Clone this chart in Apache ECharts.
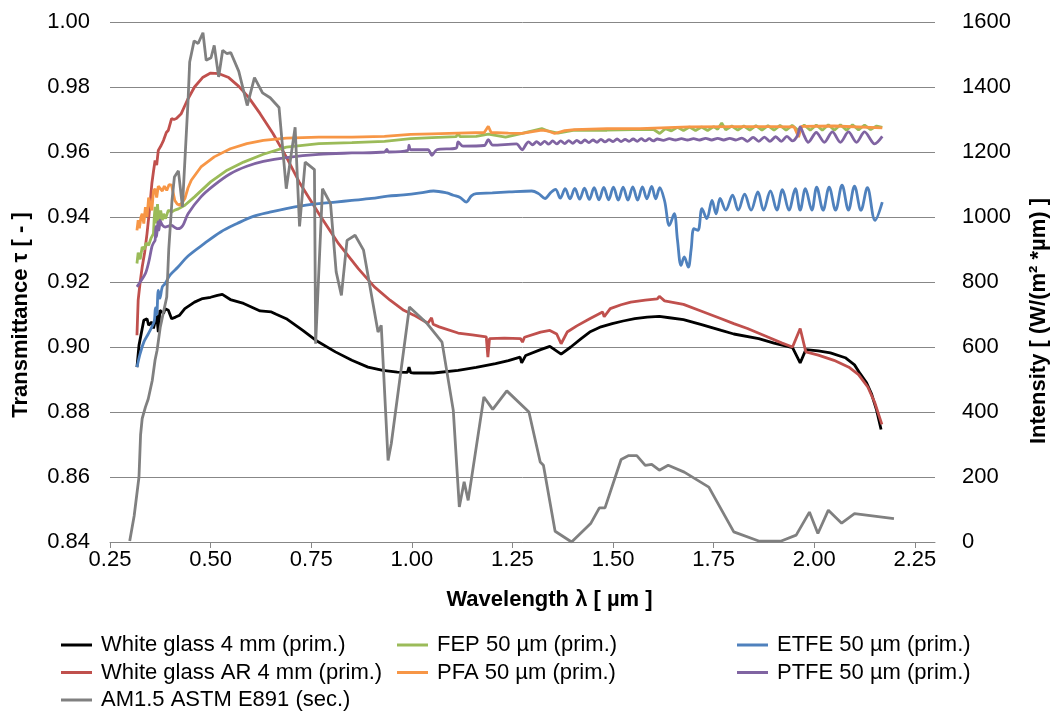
<!DOCTYPE html>
<html>
<head>
<meta charset="utf-8">
<script src="https://cdn.jsdelivr.net/npm/echarts@6/dist/echarts.min.js"></script>
<style>
html,body{margin:0;padding:0;background:#fff;}
#chart{width:1058px;height:711px;}
</style>
</head>
<body>
<div id="chart"></div>
<script>
// ---- data (wavelength in µm, transmittance / intensity) ----
const xTicks = [0.25, 0.50, 0.75, 1.00, 1.25, 1.50, 1.75, 2.00, 2.25];

const whiteGlass = [[0.317,0.8938],[0.322,0.9005],[0.334,0.9082],[0.342,0.9087],[0.346,0.9067],[0.354,0.9077],[0.358,0.9057],[0.366,0.9098],[0.370,0.9046],[0.374,0.9113],[0.383,0.9103],[0.387,0.9118],[0.395,0.9113],[0.403,0.9087],[0.413,0.9092],[0.423,0.9098],[0.436,0.9118],[0.460,0.9138],[0.480,0.9149],[0.500,0.9153],[0.517,0.9159],[0.529,0.9162],[0.549,0.9146],[0.582,0.9134],[0.623,0.9111],[0.651,0.9108],[0.663,0.9101],[0.688,0.9087],[0.729,0.9051],[0.761,0.9021],[0.810,0.8985],[0.851,0.8959],[0.891,0.8938],[0.928,0.8928],[0.964,0.8923],[0.989,0.8922],[0.993,0.8938],[0.997,0.8921],[1.005,0.8920],[1.054,0.8920],[1.115,0.8928],[1.160,0.8937],[1.208,0.8949],[1.240,0.8958],[1.269,0.8969],[1.273,0.8951],[1.283,0.8974],[1.320,0.8992],[1.343,0.9002],[1.371,0.8978],[1.395,0.9000],[1.420,0.9025],[1.442,0.9046],[1.470,0.9062],[1.498,0.9072],[1.525,0.9080],[1.554,0.9087],[1.585,0.9092],[1.615,0.9094],[1.640,0.9090],[1.675,0.9084],[1.720,0.9069],[1.769,0.9051],[1.800,0.9040],[1.862,0.9026],[1.900,0.9012],[1.946,0.8998],[1.965,0.8951],[1.979,0.8992],[2.010,0.8988],[2.040,0.8982],[2.077,0.8967],[2.100,0.8945],[2.114,0.8918],[2.130,0.8890],[2.142,0.8857],[2.155,0.8805],[2.166,0.8746]];

const whiteGlassAR = [[0.317,0.9036],[0.320,0.9144],[0.325,0.9200],[0.330,0.9246],[0.336,0.9290],[0.342,0.9349],[0.348,0.9420],[0.354,0.9503],[0.358,0.9540],[0.362,0.9574],[0.366,0.9560],[0.370,0.9605],[0.377,0.9620],[0.383,0.9636],[0.390,0.9660],[0.395,0.9667],[0.403,0.9703],[0.409,0.9700],[0.415,0.9703],[0.427,0.9718],[0.435,0.9740],[0.444,0.9764],[0.460,0.9800],[0.480,0.9829],[0.500,0.9843],[0.521,0.9841],[0.545,0.9829],[0.570,0.9802],[0.594,0.9769],[0.623,0.9718],[0.655,0.9657],[0.688,0.9585],[0.720,0.9508],[0.769,0.9410],[0.818,0.9318],[0.867,0.9241],[0.907,0.9185],[0.946,0.9144],[0.980,0.9113],[1.005,0.9098],[1.021,0.9087],[1.040,0.9073],[1.049,0.9090],[1.053,0.9070],[1.068,0.9062],[1.115,0.9043],[1.150,0.9037],[1.185,0.9031],[1.189,0.8969],[1.193,0.9026],[1.230,0.9027],[1.270,0.9026],[1.275,0.9015],[1.280,0.9030],[1.320,0.9046],[1.343,0.9051],[1.360,0.9040],[1.371,0.9010],[1.386,0.9046],[1.410,0.9065],[1.442,0.9087],[1.474,0.9108],[1.478,0.9093],[1.493,0.9118],[1.520,0.9130],[1.544,0.9138],[1.580,0.9144],[1.610,0.9148],[1.615,0.9156],[1.628,0.9142],[1.675,0.9131],[1.720,0.9110],[1.769,0.9087],[1.800,0.9072],[1.834,0.9057],[1.880,0.9033],[1.920,0.9012],[1.946,0.9000],[1.965,0.9057],[1.979,0.8985],[2.010,0.8975],[2.049,0.8959],[2.086,0.8938],[2.110,0.8915],[2.133,0.8877],[2.150,0.8830],[2.168,0.8762]];

const am15 = [[0.299,3],[0.310,80],[0.322,200],[0.326,330],[0.330,380],[0.334,385],[0.338,415],[0.345,440],[0.355,497],[0.362,560],[0.367,590],[0.375,662],[0.391,754],[0.396,900],[0.404,1050],[0.410,1123],[0.420,1142],[0.430,1031],[0.444,1359],[0.448,1477],[0.459,1542],[0.469,1534],[0.481,1567],[0.489,1482],[0.501,1490],[0.509,1528],[0.520,1431],[0.530,1513],[0.540,1503],[0.550,1506],[0.570,1448],[0.591,1343],[0.609,1429],[0.629,1382],[0.648,1367],[0.670,1337],[0.688,1087],[0.710,1276],[0.721,971],[0.735,1169],[0.758,1146],[0.761,610],[0.778,1087],[0.798,1041],[0.812,831],[0.825,759],[0.839,928],[0.859,944],[0.880,898],[0.916,646],[0.924,667],[0.941,251],[0.949,303],[0.994,723],[1.038,672],[1.075,615],[1.103,405],[1.118,108],[1.130,185],[1.140,128],[1.179,446],[1.201,408],[1.236,465],[1.291,400],[1.319,246],[1.327,236],[1.356,33],[1.397,0],[1.445,58],[1.466,105],[1.480,105],[1.520,254],[1.539,266],[1.559,266],[1.580,236],[1.596,239],[1.615,221],[1.637,236],[1.677,215],[1.738,169],[1.800,31],[1.862,3],[1.918,3],[1.955,21],[1.988,92],[2.009,26],[2.035,98],[2.068,58],[2.100,87],[2.198,72]];

const fep = [[0.317,0.9257],[0.320,0.9290],[0.325,0.9270],[0.330,0.9308],[0.335,0.9300],[0.340,0.9320],[0.346,0.9313],[0.352,0.9335],[0.358,0.9349],[0.360,0.9400],[0.362,0.9431],[0.365,0.9380],[0.368,0.9440],[0.372,0.9370],[0.376,0.9420],[0.380,0.9390],[0.383,0.9410],[0.388,0.9395],[0.395,0.9421],[0.403,0.9415],[0.411,0.9421],[0.420,0.9425],[0.436,0.9436],[0.460,0.9462],[0.500,0.9508],[0.541,0.9544],[0.582,0.9569],[0.631,0.9593],[0.688,0.9615],[0.769,0.9626],[0.851,0.9629],[0.932,0.9633],[0.997,0.9641],[1.050,0.9644],[1.110,0.9647],[1.115,0.9658],[1.120,0.9647],[1.160,0.9648],[1.190,0.9655],[1.233,0.9646],[1.274,0.9657],[1.323,0.9672],[1.340,0.9664],[1.363,0.9658],[1.404,0.9667],[1.485,0.9667],[1.550,0.9669],[1.600,0.9670],[1.616,0.9657],[1.630,0.9672],[1.645,0.9665],[1.660,0.9676],[1.675,0.9666],[1.690,0.9677],[1.705,0.9666],[1.720,0.9677],[1.735,0.9666],[1.750,0.9678],[1.760,0.9670],[1.770,0.9689],[1.780,0.9668],[1.795,0.9680],[1.810,0.9667],[1.825,0.9680],[1.840,0.9667],[1.855,0.9681],[1.870,0.9667],[1.885,0.9681],[1.900,0.9667],[1.915,0.9682],[1.930,0.9667],[1.945,0.9682],[1.960,0.9667],[1.975,0.9683],[1.990,0.9667],[2.005,0.9683],[2.020,0.9667],[2.035,0.9684],[2.050,0.9667],[2.065,0.9684],[2.080,0.9667],[2.095,0.9684],[2.110,0.9668],[2.125,0.9683],[2.140,0.9669],[2.155,0.9680],[2.169,0.9676]];

const pfa = [[0.317,0.9359],[0.320,0.9390],[0.323,0.9365],[0.327,0.9400],[0.330,0.9410],[0.334,0.9380],[0.338,0.9430],[0.342,0.9400],[0.346,0.9460],[0.350,0.9462],[0.354,0.9420],[0.358,0.9480],[0.362,0.9487],[0.366,0.9460],[0.370,0.9495],[0.374,0.9492],[0.380,0.9480],[0.385,0.9495],[0.391,0.9482],[0.397,0.9500],[0.403,0.9498],[0.411,0.9451],[0.417,0.9440],[0.423,0.9436],[0.430,0.9445],[0.436,0.9457],[0.444,0.9490],[0.452,0.9513],[0.476,0.9554],[0.509,0.9585],[0.549,0.9610],[0.590,0.9626],[0.631,0.9636],[0.688,0.9643],[0.769,0.9646],[0.851,0.9646],[0.932,0.9648],[0.997,0.9654],[1.050,0.9656],[1.115,0.9658],[1.180,0.9660],[1.190,0.9679],[1.197,0.9660],[1.240,0.9658],[1.274,0.9657],[1.300,0.9663],[1.323,0.9667],[1.340,0.9664],[1.355,0.9657],[1.380,0.9666],[1.404,0.9669],[1.485,0.9672],[1.567,0.9672],[1.689,0.9677],[1.800,0.9678],[1.900,0.9678],[1.950,0.9677],[1.961,0.9646],[1.968,0.9679],[2.050,0.9680],[2.169,0.9674]];

const etfe = [[0.317,0.8938],[0.325,0.8980],[0.334,0.9015],[0.345,0.9040],[0.354,0.9062],[0.360,0.9080],[0.363,0.9120],[0.366,0.9100],[0.370,0.9174],[0.374,0.9150],[0.380,0.9185],[0.387,0.9195],[0.399,0.9221],[0.419,0.9246],[0.444,0.9280],[0.484,0.9318],[0.525,0.9354],[0.566,0.9380],[0.606,0.9402],[0.647,0.9415],[0.688,0.9426],[0.730,0.9435],[0.769,0.9441],[0.810,0.9446],[0.851,0.9451],[0.900,0.9457],[0.940,0.9464],[0.980,0.9468],[1.021,0.9474],[1.054,0.9480],[1.087,0.9474],[1.103,0.9467],[1.120,0.9460],[1.135,0.9446],[1.148,0.9465],[1.160,0.9472],[1.200,0.9474],[1.242,0.9477],[1.298,0.9480],[1.315,0.9472],[1.331,0.9457],[1.345,0.9475],[1.357,0.9485],[1.369,0.9458],[1.381,0.9487],[1.393,0.9456],[1.405,0.9488],[1.417,0.9455],[1.429,0.9489],[1.441,0.9454],[1.453,0.9490],[1.465,0.9453],[1.477,0.9491],[1.489,0.9453],[1.501,0.9492],[1.513,0.9452],[1.525,0.9492],[1.537,0.9452],[1.549,0.9493],[1.561,0.9452],[1.573,0.9493],[1.584,0.9456],[1.596,0.9494],[1.606,0.9456],[1.616,0.9490],[1.628,0.9450],[1.640,0.9374],[1.652,0.9410],[1.660,0.9330],[1.669,0.9251],[1.677,0.9277],[1.687,0.9246],[1.694,0.9300],[1.701,0.9364],[1.711,0.9359],[1.721,0.9426],[1.733,0.9395],[1.746,0.9451],[1.756,0.9410],[1.766,0.9457],[1.780,0.9421],[1.797,0.9467],[1.811,0.9421],[1.827,0.9470],[1.843,0.9421],[1.860,0.9477],[1.874,0.9421],[1.891,0.9480],[1.907,0.9421],[1.921,0.9484],[1.937,0.9421],[1.953,0.9487],[1.965,0.9421],[1.978,0.9487],[1.994,0.9421],[2.006,0.9492],[2.022,0.9421],[2.037,0.9492],[2.053,0.9421],[2.069,0.9498],[2.085,0.9421],[2.100,0.9495],[2.116,0.9421],[2.132,0.9490],[2.151,0.9390],[2.169,0.9446]];

const ptfe = [[0.317,0.9185],[0.325,0.9200],[0.338,0.9226],[0.346,0.9260],[0.354,0.9308],[0.358,0.9320],[0.362,0.9328],[0.364,0.9370],[0.366,0.9340],[0.369,0.9385],[0.372,0.9360],[0.374,0.9390],[0.380,0.9375],[0.387,0.9369],[0.395,0.9372],[0.403,0.9374],[0.411,0.9368],[0.419,0.9364],[0.431,0.9374],[0.444,0.9410],[0.476,0.9462],[0.509,0.9498],[0.549,0.9533],[0.590,0.9556],[0.631,0.9571],[0.688,0.9583],[0.769,0.9593],[0.851,0.9597],[0.932,0.9600],[0.938,0.9608],[0.942,0.9600],[0.990,0.9605],[0.993,0.9621],[0.997,0.9607],[1.040,0.9607],[1.050,0.9590],[1.062,0.9607],[1.110,0.9612],[1.115,0.9631],[1.127,0.9618],[1.180,0.9620],[1.190,0.9638],[1.201,0.9621],[1.260,0.9625],[1.274,0.9607],[1.285,0.9626],[1.290,0.9631],[1.300,0.9622],[1.310,0.9632],[1.320,0.9623],[1.330,0.9633],[1.340,0.9624],[1.350,0.9634],[1.360,0.9625],[1.370,0.9634],[1.380,0.9626],[1.390,0.9635],[1.400,0.9627],[1.410,0.9636],[1.420,0.9628],[1.430,0.9637],[1.440,0.9629],[1.450,0.9637],[1.460,0.9630],[1.470,0.9639],[1.480,0.9631],[1.490,0.9638],[1.500,0.9632],[1.510,0.9640],[1.520,0.9632],[1.530,0.9639],[1.540,0.9633],[1.550,0.9640],[1.560,0.9633],[1.570,0.9641],[1.580,0.9634],[1.590,0.9641],[1.600,0.9634],[1.610,0.9640],[1.625,0.9636],[1.640,0.9641],[1.655,0.9637],[1.670,0.9641],[1.685,0.9637],[1.700,0.9641],[1.715,0.9637],[1.730,0.9642],[1.745,0.9637],[1.760,0.9642],[1.775,0.9637],[1.790,0.9642],[1.805,0.9637],[1.820,0.9643],[1.834,0.9633],[1.848,0.9645],[1.862,0.9633],[1.876,0.9646],[1.890,0.9633],[1.904,0.9647],[1.918,0.9633],[1.932,0.9648],[1.946,0.9634],[1.958,0.9650],[1.965,0.9677],[1.975,0.9650],[1.985,0.9630],[2.005,0.9660],[2.025,0.9630],[2.045,0.9662],[2.065,0.9630],[2.085,0.9662],[2.105,0.9630],[2.125,0.9662],[2.150,0.9625],[2.169,0.9648]];

const names = {
  wg: 'White glass 4 mm (prim.)',
  wgar: 'White glass AR 4 mm (prim.)',
  am: 'AM1.5 ASTM E891 (sec.)',
  fep: 'FEP 50 µm (prim.)',
  pfa: 'PFA 50 µm (prim.)',
  etfe: 'ETFE 50 µm (prim.)',
  ptfe: 'PTFE 50 µm (prim.)'
};

const FONT = 'Liberation Sans, Arial, sans-serif';
const FS = 22;
const chart = echarts.init(document.getElementById('chart'), null, {renderer: 'canvas'});

function line(name, data, color, yAxisIndex, z, smooth) {
  return {
    name, type: 'line', data, yAxisIndex: yAxisIndex || 0,
    showSymbol: false, symbol: 'none', smooth: smooth || false, z: z || 2,
    lineStyle: {color, width: 2.8},
    itemStyle: {color},
    emphasis: {disabled: true}
  };
}

const legendBase = {
  orient: 'vertical', top: 634, height: 100, padding: 0, itemWidth: 31, itemHeight: 3, icon: 'rect', itemGap: 5.5,
  textStyle: {fontFamily: FONT, fontSize: FS, color: '#000', lineHeight: 22, padding: [0, 0, 0, 4]}
};

chart.setOption({
  animation: false,
  backgroundColor: '#fff',
  textStyle: {fontFamily: FONT},
  grid: {left: 110, right: 108, top: 22, bottom: 169, containLabel: false},
  legend: [
    Object.assign({}, legendBase, {left: 61, data: [names.wg, names.wgar, names.am]}),
    Object.assign({}, legendBase, {left: 397, data: [names.fep, names.pfa]}),
    Object.assign({}, legendBase, {left: 737, data: [names.etfe, names.ptfe]})
  ],
  xAxis: {
    type: 'value', min: 0.25, max: 2.3, interval: 0.25,
    name: 'Wavelength λ [ µm ]', nameLocation: 'middle', nameGap: 47,
    nameTextStyle: {fontFamily: FONT, fontSize: FS, fontWeight: 'bold', color: '#000', padding: [0, 0, 0, 54]},
    axisLine: {show: true, lineStyle: {color: '#878787', width: 1}},
    axisTick: {show: true, length: 6, lineStyle: {color: '#878787'}, customValues: xTicks},
    axisLabel: {fontFamily: FONT, fontSize: FS, color: '#000', margin: 7, customValues: xTicks,
      formatter: v => v.toFixed(2)},
    splitLine: {show: false}
  },
  yAxis: [
    {
      type: 'value', min: 0.84, max: 1.0, interval: 0.02, position: 'left',
      name: 'Transmittance τ [ - ]', nameLocation: 'middle', nameGap: 78,
      nameTextStyle: {fontFamily: FONT, fontSize: FS, fontWeight: 'bold', color: '#000', padding: [0, 66, 0, 0]},
      axisLine: {show: false}, axisTick: {show: false},
      axisLabel: {fontFamily: FONT, fontSize: FS, color: '#000', margin: 20, formatter: v => v.toFixed(2)},
      splitLine: {show: true, lineStyle: {color: '#878787', width: 1}}
    },
    {
      type: 'value', min: 0, max: 1600, interval: 200, position: 'right',
      name: 'Intensity [ (W/(m² *µm) ]', nameLocation: 'middle', nameGap: 93, nameRotate: 90,
      nameTextStyle: {fontFamily: FONT, fontSize: FS, fontWeight: 'bold', color: '#000', padding: [0, 78, 0, 0]},
      axisLine: {show: false}, axisTick: {show: false},
      axisLabel: {fontFamily: FONT, fontSize: FS, color: '#000', margin: 27, formatter: v => String(v)},
      splitLine: {show: false}
    }
  ],
  series: [
    line(names.wg, whiteGlass, '#000000', 0, 3),
    line(names.wgar, whiteGlassAR, '#C0504D', 0, 3),
    line(names.am, am15, '#808080', 1, 4),
    line(names.fep, fep, '#9BBB59', 0, 3),
    line(names.pfa, pfa, '#F79646', 0, 3),
    line(names.etfe, etfe, '#4F81BD', 0, 3, 0.35),
    line(names.ptfe, ptfe, '#8064A2', 0, 3, 0.3)
  ]
});
</script>
</body>
</html>
